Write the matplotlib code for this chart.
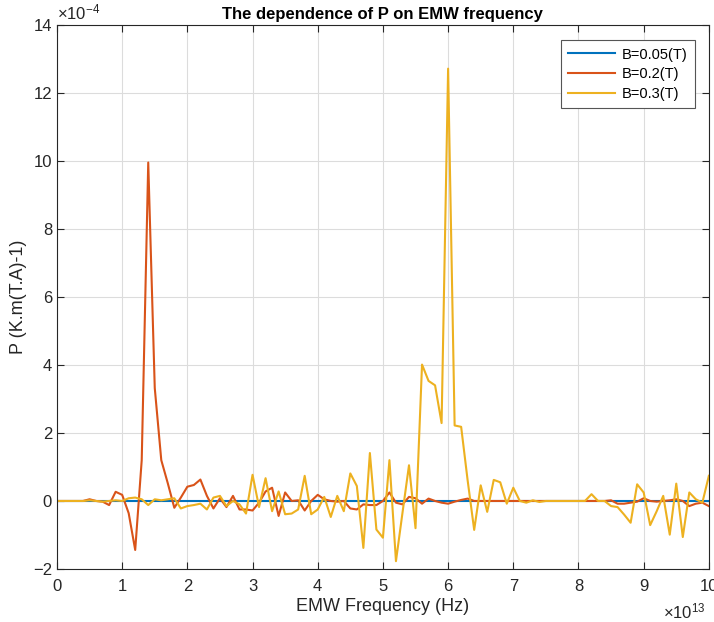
import numpy as np
import matplotlib
matplotlib.use("Agg")
import matplotlib.pyplot as plt

plt.rcParams['font.family'] = ['Liberation Sans Narrow', 'Liberation Sans', 'DejaVu Sans']
plt.rcParams['mathtext.fontset'] = 'custom'
plt.rcParams['mathtext.rm'] = 'Liberation Sans'
plt.rcParams['mathtext.it'] = 'Liberation Sans'

# frequency in units of 1e13 Hz, P in units of 1e-4
freq = np.arange(0, 101) / 10.0

p_b005 = [0.0] * 101

p_b02 = [0, 0, 0, 0, 0, 0.05, 0, -0.02, -0.12, 0.27,
         0.18, -0.36, -1.44, 1.2, 9.95, 3.32, 1.2, 0.52, -0.2, 0.1,
         0.42, 0.47, 0.63, 0.15, -0.22, 0.08, -0.18, 0.15, -0.25, -0.25,
         -0.28, -0.05, 0.28, 0.39, -0.44, 0.25, 0.0, 0.02, -0.28, 0.0,
         0.18, 0.05, 0.0, -0.02, 0.0, -0.22, -0.25, -0.1, -0.12, -0.12,
         0.0, 0.25, -0.05, -0.1, 0.12, 0.08, -0.08, 0.07, 0.0, -0.05,
         -0.08, -0.02, 0.03, 0.07, 0.0, 0.0, 0.0, 0.0, 0.0, 0.0,
         0.0, 0.0, 0.0, 0.0, 0.0, 0.0, 0.0, 0.0, 0.0, 0.0,
         0.0, 0.0, 0.0, 0.0, 0.0, 0.02, -0.08, -0.08, -0.05, -0.02,
         0.08, 0.0, -0.02, 0.0, 0.02, 0.05, 0.0, -0.15, -0.08, -0.05,
         -0.15]

p_b03 = [0, 0, 0, 0, 0, 0.02, 0, -0.02, 0, 0.02,
         0, 0.08, 0.1, 0.05, -0.12, 0.05, 0.02, 0.05, 0.08, -0.22,
         -0.15, -0.12, -0.08, -0.25, 0.1, 0.15, -0.15, 0.0, -0.1, -0.37,
         0.77, -0.18, 0.67, -0.3, 0.28, -0.39, -0.37, -0.25, 0.74, -0.39,
         -0.25, 0.12, -0.47, 0.15, -0.3, 0.81, 0.44, -1.38, 1.41, -0.84,
         -1.08, 1.2, -1.77, -0.35, 1.05, -0.8, 4.01, 3.53, 3.40, 2.29,
         12.71, 2.22, 2.18, 0.6, -0.85, 0.46, -0.32, 0.62, 0.55, -0.08,
         0.39, 0.0, -0.05, 0.02, -0.03, 0.0, 0.0, 0.0, 0.0, 0.0,
         0.0, 0.0, 0.2, 0.0, 0.0, -0.15, -0.18, -0.4, -0.64, 0.49,
         0.25, -0.71, -0.3, 0.15, -0.99, 0.51, -1.06, 0.25, 0.05, -0.05,
         0.74]

labels = ["B=0.05(T)", "B=0.2(T)", "B=0.3(T)"]
colors = ["#0072BD", "#D95319", "#EDB120"]

fig = plt.figure(figsize=(7.14, 6.22), dpi=100)
ax = fig.add_axes([0.0798, 0.0852, 0.913, 0.875])

for y, lab, c in zip([p_b005, p_b02, p_b03], labels, colors):
    ax.plot(freq, y, color=c, lw=1.5, label=lab)

ax.set_xlim(0, 10)
ax.set_ylim(-2, 14)
ax.set_xticks(range(0, 11))
ax.set_yticks(range(-2, 15, 2))
ax.grid(True, color="#dcdcdc", lw=0.8)
ax.set_axisbelow(True)
ax.tick_params(direction="in", top=True, right=True, labelsize=12,
               colors="#262626", length=5)
ax.tick_params(axis="x", pad=7)
for s in ax.spines.values():
    s.set_color("#262626")
    s.set_linewidth(0.8)

ax.set_title("The dependence of P on EMW frequency", fontsize=12,
             fontweight="bold", pad=4)
ax.set_xlabel("EMW Frequency (Hz)", fontsize=13, color="#262626", labelpad=3)
ax.set_ylabel("P (K.m(T.A)-1)", fontsize=13, color="#262626")

ax.text(0.0, 1.005, r"$\times10^{-4}$", transform=ax.transAxes,
        fontsize=12, color="#262626", ha="left", va="bottom")
ax.text(0.995, -0.06, r"$\times10^{13}$", transform=ax.transAxes,
        fontsize=12, color="#262626", ha="right", va="top")

leg = ax.legend(loc="upper right", fontsize=10.5, fancybox=False,
                framealpha=1, edgecolor="#555555",
                bbox_to_anchor=(0.99, 0.985), handlelength=3.2,
                handletextpad=0.5, borderpad=0.5, labelspacing=0.4)
leg.get_frame().set_linewidth(0.8)

fig.savefig("out.png", dpi=100)
